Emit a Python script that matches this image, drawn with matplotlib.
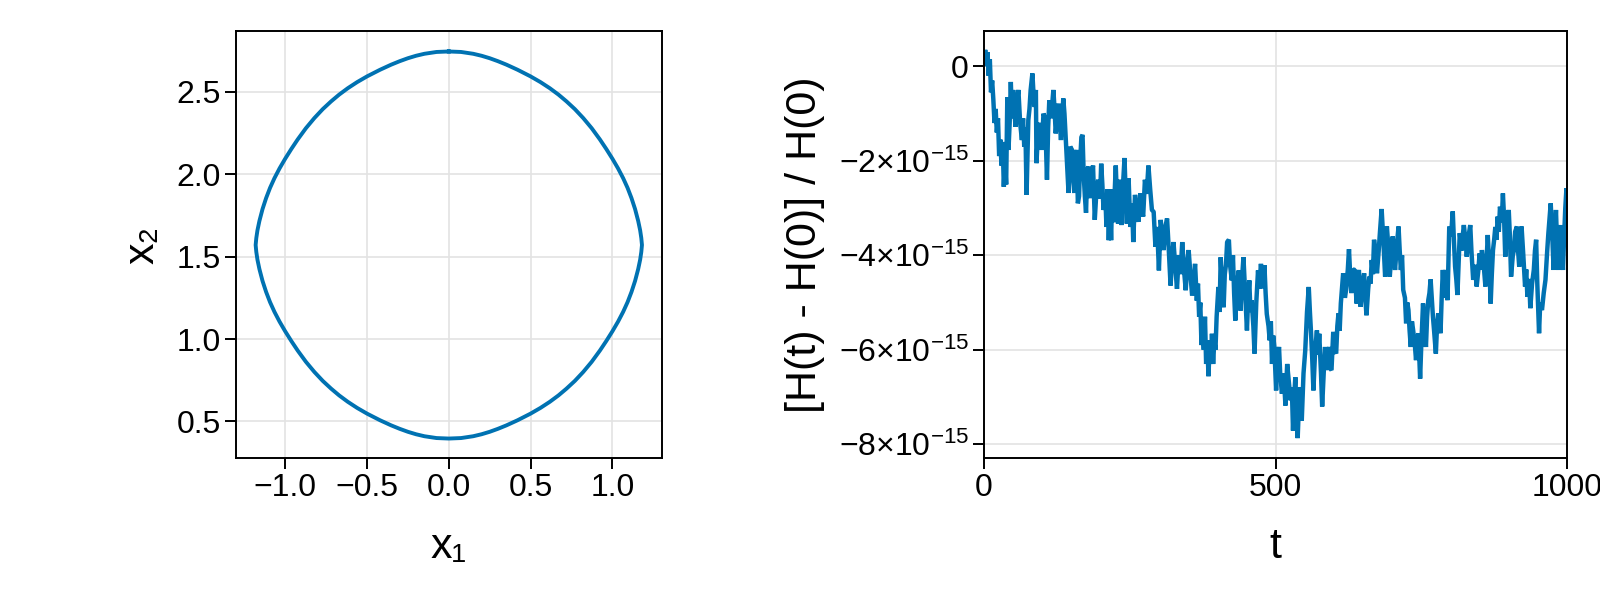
"""
Phase portrait of the orbit (left) and relative energy drift of the
integrator over time (right). Values read off the reference figure.
"""

import matplotlib
matplotlib.use("Agg")
import matplotlib.pyplot as plt
import numpy as np

BLUE = "#0072B2"
GRID = "#e3e3e3"

# --- left panel: closed orbit in the (x1, x2) plane -------------------------
orbit_x1 = [
    0.000, 0.075, 0.149, 0.200, 0.250, 0.300, 0.352, 0.420, 0.499, 0.560,
    0.617, 0.670, 0.719, 0.770, 0.821, 0.873, 0.923, 0.962, 1.000, 1.034,
    1.065, 1.092, 1.116, 1.138, 1.157, 1.169, 1.176, 1.180,
    1.176, 1.169, 1.157, 1.138, 1.116, 1.092, 1.065, 1.034, 1.000, 0.962,
    0.923, 0.873, 0.821, 0.770, 0.719, 0.670, 0.617, 0.560, 0.499, 0.420,
    0.352, 0.300, 0.250, 0.200, 0.149, 0.075, 0.000,
    -0.075, -0.149, -0.200, -0.250, -0.300, -0.352, -0.420, -0.499, -0.560,
    -0.617, -0.670, -0.719, -0.770, -0.821, -0.873, -0.923, -0.962, -1.000,
    -1.034, -1.065, -1.092, -1.116, -1.138, -1.157, -1.169, -1.176, -1.180,
    -1.176, -1.169, -1.157, -1.138, -1.116, -1.092, -1.065, -1.034, -1.000,
    -0.962, -0.923, -0.873, -0.821, -0.770, -0.719, -0.670, -0.617, -0.560,
    -0.499, -0.420, -0.352, -0.300, -0.250, -0.200, -0.149, -0.075, 0.000,
]
orbit_x2 = [
    2.746, 2.743, 2.732, 2.720, 2.705, 2.687, 2.666, 2.635, 2.595, 2.560,
    2.523, 2.484, 2.443, 2.396, 2.342, 2.280, 2.212, 2.154, 2.094, 2.036,
    1.977, 1.918, 1.856, 1.789, 1.717, 1.660, 1.613, 1.571,
    1.529, 1.482, 1.425, 1.353, 1.286, 1.224, 1.165, 1.106, 1.048, 0.988,
    0.930, 0.862, 0.800, 0.746, 0.699, 0.658, 0.619, 0.582, 0.547, 0.507,
    0.476, 0.455, 0.437, 0.422, 0.410, 0.399, 0.396,
    0.399, 0.410, 0.422, 0.437, 0.455, 0.476, 0.507, 0.547, 0.582,
    0.619, 0.658, 0.699, 0.746, 0.800, 0.862, 0.930, 0.988, 1.048,
    1.106, 1.165, 1.224, 1.286, 1.353, 1.425, 1.482, 1.529, 1.571,
    1.613, 1.660, 1.717, 1.789, 1.856, 1.918, 1.977, 2.036, 2.094,
    2.154, 2.212, 2.280, 2.342, 2.396, 2.443, 2.484, 2.523, 2.560,
    2.595, 2.635, 2.666, 2.687, 2.705, 2.720, 2.732, 2.743, 2.746,
]

# --- right panel: [H(t) - H(0)] / H(0), in units of 1e-15 -------------------
t_vals = [
    0, 2, 4, 6, 8, 10, 12, 14, 16, 18, 20, 22, 24, 26, 28, 30, 32, 34, 36, 38,
    40, 42, 44, 46, 48, 50, 52, 54, 56, 59, 62, 65, 67, 69, 71, 73, 75, 76, 78,
    80, 83, 85, 87, 89, 90, 93, 96, 99, 102, 105, 108, 110, 112, 115, 119, 121,
    123, 126, 128, 130, 132, 134, 136, 138, 140, 142, 145, 148, 151, 153, 155,
    157, 159, 161, 163, 165, 167, 169, 171, 173, 175, 177, 179, 181, 183, 185,
    187, 190, 193, 196, 199, 201, 203, 205, 208, 210, 212, 214, 216, 218, 220,
    222, 224, 226, 228, 230, 233, 236, 238, 241, 243, 245, 248, 251, 254, 256,
    259, 262, 265, 268, 270, 273, 276, 279, 282, 285, 288, 291, 294, 297, 300,
    303, 306, 308, 311, 314, 317, 320, 323, 325, 328, 331, 334, 337, 340, 343,
    346, 349, 351, 354, 357, 360, 362, 365, 367, 369, 371, 373, 375, 377, 379,
    381, 383, 385, 387, 389, 391, 393, 395, 397, 399, 402, 404, 406, 408, 411,
    413, 415, 417, 420, 422, 425, 427, 429, 431, 434, 437, 440, 442, 445, 448,
    451, 453, 455, 457, 459, 462, 464, 467, 470, 472, 475, 478, 481, 483, 485,
    488, 490, 492, 494, 496, 498, 501, 503, 506, 508, 511, 514, 517, 520, 523,
    526, 528, 530, 532, 534, 536, 538, 540, 542, 544, 545, 548, 551, 554, 557,
    559, 561, 563, 565, 568, 571, 573, 575, 578, 580, 583, 585, 587, 589, 592,
    594, 596, 599, 601, 604, 606, 608, 610, 612, 614, 616, 619, 621, 624, 626,
    628, 630, 633, 636, 639, 641, 643, 646, 649, 652, 654, 656, 659, 661, 663,
    665, 667, 669, 672, 674, 677, 679, 682, 685, 688, 691, 694, 696, 699, 701,
    703, 705, 708, 711, 713, 715, 717, 719, 722, 724, 726, 728, 730, 732, 734,
    736, 739, 741, 743, 745, 747, 748, 750, 753, 755, 758, 760, 762, 764, 766,
    768, 770, 772, 775, 777, 779, 781, 783, 785, 787, 789, 791, 793, 795, 797,
    798, 801, 804, 806, 808, 810, 812, 814, 816, 819, 821, 823, 826, 828, 831,
    834, 836, 839, 842, 845, 848, 850, 852, 854, 857, 860, 862, 864, 867, 869,
    871, 873, 875, 877, 879, 881, 883, 885, 888, 890, 892, 894, 897, 900, 902,
    904, 907, 909, 911, 914, 916, 918, 920, 922, 925, 928, 930, 932, 935, 937,
    940, 943, 945, 947, 949, 952, 954, 957, 960, 963, 966, 968, 970, 972, 975,
    977, 979, 981, 983, 985, 987, 989, 991, 993, 995, 997, 999, 1000,
]
drift_e15 = [
    0.0, 0.35, 0.1, 0.3, -0.2, 0.15, -0.55, -0.3, -0.7, -1.2, -0.9, -1.4,
    -1.1, -1.9, -1.55, -2.1, -1.6, -2.55, -2.0, -2.5, -0.65, -1.77, -1.2,
    -0.33, -1.1, -0.5, -0.9, -1.28, -0.8, -0.5, -1.2, -1.56, -1.1, -1.7, -1.3,
    -2.72, -1.6, -1.14, -0.9, -0.5, -0.15, -0.6, -0.86, -0.5, -2.05, -1.3,
    -1.2, -1.77, -1.0, -1.1, -2.4, -1.3, -0.72, -1.1, -0.5, -0.9, -1.42, -1.0,
    -0.79, -1.2, -1.56, -1.1, -0.68, -1.0, -1.49, -2.0, -2.68, -1.7, -1.77,
    -2.4, -2.68, -1.9, -1.77, -2.9, -2.75, -2.0, -1.5, -1.45, -2.3, -2.75,
    -3.1, -2.2, -2.12, -2.6, -2.79, -2.3, -2.1, -3.25, -2.6, -2.4, -2.8,
    -2.06, -2.5, -3.04, -2.7, -3.4, -2.6, -3.68, -2.9, -3.68, -2.6, -3.3,
    -2.7, -2.1, -2.8, -3.33, -2.4, -3.36, -2.6, -1.94, -2.7, -3.33, -2.37,
    -3.4, -2.9, -3.72, -2.72, -3.1, -3.29, -2.69, -3.0, -3.18, -2.4, -2.7,
    -2.1, -2.6, -3.04, -3.08, -3.82, -3.4, -4.32, -3.25, -3.6, -3.89, -3.4,
    -3.22, -3.9, -4.64, -4.0, -3.72, -4.2, -4.71, -4.0, -4.4, -3.72, -4.3,
    -4.74, -4.1, -3.89, -4.4, -4.85, -4.5, -4.18, -4.96, -4.6, -5.3, -5.0,
    -5.9, -5.6, -6.0, -5.3, -6.3, -5.8, -6.56, -5.9, -6.3, -5.66, -6.3, -5.8,
    -6.0, -5.3, -4.67, -5.2, -4.04, -4.6, -5.1, -4.4, -4.2, -3.72, -3.67,
    -4.2, -4.53, -4.0, -4.8, -5.38, -4.6, -4.32, -5.17, -4.6, -4.04, -4.8,
    -5.59, -4.9, -4.53, -5.2, -4.95, -5.5, -6.08, -5.0, -4.32, -4.7, -4.18,
    -4.7, -4.21, -4.8, -5.24, -5.5, -5.8, -5.4, -6.3, -5.7, -5.94, -6.86,
    -6.2, -5.94, -6.5, -6.93, -6.5, -7.18, -6.3, -6.7, -7.07, -6.8, -7.71,
    -7.0, -6.58, -7.3, -7.87, -7.2, -6.79, -7.3, -7.5, -6.5, -6.01, -5.2,
    -4.67, -5.2, -5.66, -6.2, -6.86, -6.0, -5.59, -6.1, -5.66, -6.5, -7.2,
    -6.4, -5.94, -6.43, -6.2, -5.94, -6.4, -6.43, -5.62, -6.0, -6.08, -5.5,
    -5.23, -5.6, -5.02, -4.7, -4.38, -4.9, -4.73, -4.3, -3.87, -4.4, -4.8,
    -4.3, -4.31, -5.02, -4.5, -4.31, -5.09, -4.6, -4.38, -4.9, -5.27, -4.7,
    -4.45, -4.6, -4.1, -4.4, -3.67, -4.0, -4.38, -3.9, -3.53, -3.02, -3.7,
    -4.45, -3.39, -3.9, -4.45, -3.9, -3.6, -4.0, -4.31, -3.8, -3.39, -3.9,
    -4.31, -4.0, -4.73, -4.9, -5.44, -5.0, -5.16, -5.6, -5.94, -5.4, -5.58,
    -5.9, -6.22, -5.8, -5.65, -6.3, -6.61, -5.9, -5.02, -5.5, -5.94, -5.3,
    -4.95, -4.8, -4.51, -4.9, -5.3, -5.6, -6.08, -5.5, -5.23, -5.4, -5.65,
    -4.9, -4.31, -4.9, -4.31, -4.6, -4.95, -3.9, -3.39, -3.6, -3.07, -3.7,
    -4.24, -4.5, -4.84, -4.2, -3.53, -3.9, -3.6, -3.36, -3.7, -4.03, -3.6,
    -3.36, -3.9, -4.52, -4.2, -4.66, -4.3, -3.96, -4.3, -3.89, -4.2, -4.66,
    -4.1, -3.57, -4.3, -5.02, -4.4, -3.89, -3.67, -3.4, -3.67, -3.18, -3.5,
    -2.97, -3.3, -2.69, -3.2, -4.03, -3.5, -3.04, -3.6, -4.45, -4.0, -3.89,
    -3.5, -3.39, -3.9, -4.24, -3.7, -3.39, -4.0, -4.66, -4.3, -4.88, -4.5,
    -5.12, -4.6, -4.31, -3.9, -3.67, -4.6, -5.65, -5.0, -5.16, -4.8, -4.52,
    -3.9, -3.53, -3.2, -2.9, -3.7, -4.31, -3.6, -3.04, -3.8, -4.31, -3.7,
    -3.36, -3.9, -4.31, -3.6, -3.0, -2.58, -2.7,
]

left_xticks = [-1.0, -0.5, 0.0, 0.5, 1.0]
left_xticklabels = ["\u22121.0", "\u22120.5", "0.0", "0.5", "1.0"]
left_yticks = [0.5, 1.0, 1.5, 2.0, 2.5]
right_xticks = [0, 500, 1000]
right_yticks = [0, -2e-15, -4e-15, -6e-15, -8e-15]
right_yticklabels = [
    r"$0$",
    r"$-2{\times}10^{-15}$",
    r"$-4{\times}10^{-15}$",
    r"$-6{\times}10^{-15}$",
    r"$-8{\times}10^{-15}$",
]

plt.rcParams["font.family"] = ["Liberation Sans", "DejaVu Sans"]
plt.rcParams["mathtext.fontset"] = "custom"
plt.rcParams["mathtext.rm"] = "Liberation Sans"
plt.rcParams["mathtext.it"] = "Liberation Sans:italic"
plt.rcParams["mathtext.default"] = "regular"


def style_axis(ax):
    for sp in ax.spines.values():
        sp.set_linewidth(1.4)
        sp.set_color("black")
    ax.grid(True, color=GRID, lw=1.2, zorder=0)
    ax.set_axisbelow(True)
    ax.tick_params(direction="out", length=8, width=1.4, labelsize=23,
                   pad=3, top=False, right=False)


fig = plt.figure(figsize=(16, 6), dpi=100)

ax1 = fig.add_axes([0.1475, 0.2367, 0.266, 0.711])
ax1.plot(orbit_x1, orbit_x2, color=BLUE, lw=2.8, solid_joinstyle="round")
ax1.set_xlim(-1.30, 1.30)
ax1.set_ylim(0.278, 2.868)
ax1.set_xticks(left_xticks)
ax1.set_yticks(left_yticks)
ax1.set_xticklabels(left_xticklabels)
ax1.set_xlabel("x\u2081", fontsize=31, labelpad=17)
ax1.set_ylabel("x\u2082", fontsize=31, labelpad=10)
style_axis(ax1)

ax2 = fig.add_axes([0.615, 0.2367, 0.3644, 0.711])
ax2.plot(t_vals, np.array(drift_e15) * 1e-15, color=BLUE, lw=3.2,
         solid_joinstyle="bevel", solid_capstyle="butt")
ax2.set_xlim(0, 1000)
ax2.set_ylim(-8.29e-15, 0.74e-15)
ax2.set_xticks(right_xticks)
ax2.set_yticks(right_yticks)
ax2.set_yticklabels(right_yticklabels)
ax2.set_xlabel("t", fontsize=31, labelpad=17)
ax2.set_ylabel("[H(t) - H(0)] / H(0)", fontsize=31, labelpad=10)
style_axis(ax2)

fig.savefig("out.png", dpi=100)
